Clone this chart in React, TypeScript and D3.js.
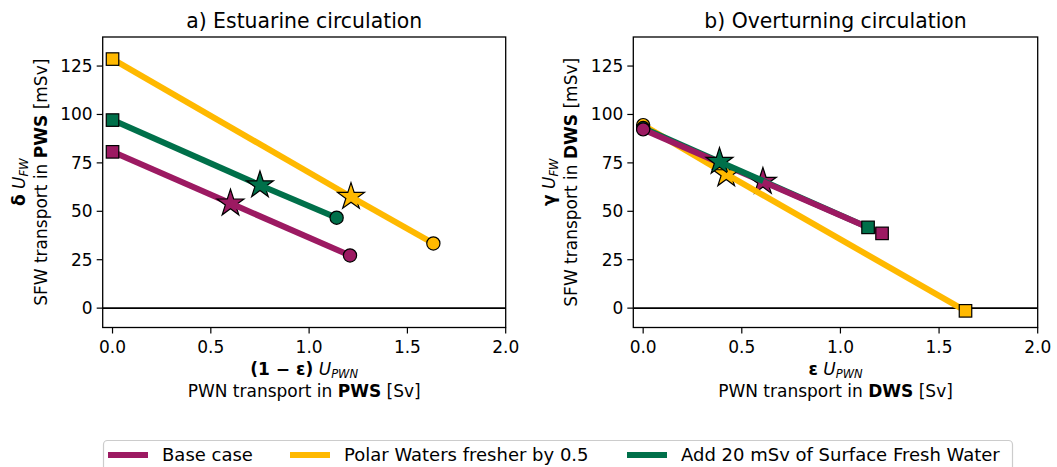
import React from "react";
import * as d3 from "d3";

const W = 1057;
const H = 467;

const caseNames = ["Polar Waters fresher by 0.5", "Add 20 mSv of Surface Fresh Water", "Base case"];
const caseColors = ["#ffb900", "#00704a", "#9c1a62"];
const legendOrder = [2, 0, 1];

// Panel a: points [square, star, circle]
const estX = [
  [0, 1.213, 1.632],
  [0, 0.75, 1.14],
  [0, 0.6, 1.208],
];
const estY = [
  [128.6, 57.5, 33.4],
  [97.1, 63.5, 46.7],
  [80.7, 54.1, 27.2],
];
const estMarkers = ["square", "star", "circle"];

// Panel b: points [circle, star, square]
const ovX = [
  [0, 0.421, 1.634],
  [0, 0.387, 1.14],
  [0, 0.607, 1.211],
];
const ovY = [
  [94.5, 69.2, -1.4],
  [93.0, 75.6, 41.7],
  [92.3, 65.3, 38.6],
];
const ovMarkers = ["circle", "star", "square"];

const xTicks = [0, 0.5, 1.0, 1.5, 2.0];
const yTicks = [0, 25, 50, 75, 100, 125];
const xDomain = [-0.05, 2.0];
const yDomain = [-10, 140];

const FONT = "DejaVu Sans, sans-serif";
const FS = 17;

function Marker({ type, x, y, color }: { type: string; x: number; y: number; color: string }) {
  if (type === "square") {
    const s = 12.5;
    return <rect x={x - s / 2} y={y - s / 2} width={s} height={s} fill={color} stroke="#000" strokeWidth={1.2} />;
  }
  if (type === "circle") {
    return <circle cx={x} cy={y} r={6.6} fill={color} stroke="#000" strokeWidth={1.2} />;
  }
  const p = d3.symbol().type(d3.symbolStar).size(225)();
  return <path d={p || ""} transform={`translate(${x},${y})`} fill={color} stroke="#000" strokeWidth={1.2} />;
}

function Panel({
  left, right, top, bottom, xs, ys, markers, title, yLab1, yLab2, xLab1, xLab2,
}: any) {
  const x = d3.scaleLinear().domain(xDomain).range([left, right]);
  const y = d3.scaleLinear().domain(yDomain).range([bottom, top]);
  const cx = (left + right) / 2;
  const cy = (top + bottom) / 2;
  const line = d3.line<[number, number]>().x((d) => x(d[0])).y((d) => y(d[1]));
  const order = [0, 1, 2];
  return (
    <g fontFamily={FONT}>
      <text x={cx} y={28} textAnchor="middle" fontSize={20.4}>{title}</text>
      <line x1={left} x2={right} y1={y(0)} y2={y(0)} stroke="#000" strokeWidth={1.6} />
      {order.map((i) => (
        <path key={"s1" + i} d={line([[xs[i][0], ys[i][0]], [xs[i][1], ys[i][1]]]) || ""} stroke={caseColors[i]} strokeWidth={6} fill="none" />
      ))}
      {order.map((i) => (
        <Marker key={"st" + i} type={markers[1]} x={x(xs[i][1])} y={y(ys[i][1])} color={caseColors[i]} />
      ))}
      {order.map((i) => (
        <path key={"s2" + i} d={line([[xs[i][1], ys[i][1]], [xs[i][2], ys[i][2]]]) || ""} stroke={caseColors[i]} strokeWidth={6} fill="none" />
      ))}
      {order.map((i) => (
        <g key={"e" + i}>
          <Marker type={markers[0]} x={x(xs[i][0])} y={y(ys[i][0])} color={caseColors[i]} />
          <Marker type={markers[2]} x={x(xs[i][2])} y={y(ys[i][2])} color={caseColors[i]} />
        </g>
      ))}
      <rect x={left} y={top} width={right - left} height={bottom - top} fill="none" stroke="#000" strokeWidth={1.3} />
      {xTicks.map((t) => (
        <g key={"xt" + t}>
          <line x1={x(t)} x2={x(t)} y1={bottom} y2={bottom + 6} stroke="#000" strokeWidth={1.2} />
          <text x={x(t)} y={bottom + 25.5} textAnchor="middle" fontSize={FS}>{t.toFixed(1)}</text>
        </g>
      ))}
      {yTicks.map((t) => (
        <g key={"yt" + t}>
          <line x1={left - 6} x2={left} y1={y(t)} y2={y(t)} stroke="#000" strokeWidth={1.2} />
          <text x={left - 10} y={y(t) + 6} textAnchor="end" fontSize={FS}>{t}</text>
        </g>
      ))}
      <text x={cx} y={375} textAnchor="middle" fontSize={FS}>{xLab1}</text>
      <text x={cx} y={397} textAnchor="middle" fontSize={FS}>{xLab2}</text>
      <g transform={`translate(${left - 78},${cy}) rotate(-90)`}>
        <text x={0} y={0} textAnchor="middle" fontSize={FS}>{yLab1}</text>
      </g>
      <g transform={`translate(${left - 56},${cy}) rotate(-90)`}>
        <text x={0} y={0} textAnchor="middle" fontSize={FS}>{yLab2}</text>
      </g>
    </g>
  );
}

const sub = (s: string) => (
  <tspan fontStyle="italic" fontSize={11.5} dy={3}>{s}</tspan>
);

export default function App() {
  const top = 37;
  const bottom = 327.5;
  return (
    <svg width={W} height={H} style={{ position: "absolute", left: 0, top: 0, background: "#fff" }}>
      <rect x={0} y={0} width={W} height={H} fill="#fff" />
      <Panel
        left={102.7} right={505.7} top={top} bottom={bottom}
        xs={estX} ys={estY} markers={estMarkers}
        title="a) Estuarine circulation"
        yLab1={<><tspan fontWeight="bold">δ</tspan><tspan> </tspan><tspan fontStyle="italic">U</tspan>{sub("FW")}</>}
        yLab2={<><tspan>SFW transport in </tspan><tspan fontWeight="bold">PWS</tspan><tspan> [mSv]</tspan></>}
        xLab1={<><tspan fontWeight="bold">(1 − ε)</tspan><tspan> </tspan><tspan fontStyle="italic">U</tspan>{sub("PWN")}</>}
        xLab2={<><tspan>PWN transport in </tspan><tspan fontWeight="bold">PWS</tspan><tspan> [Sv]</tspan></>}
      />
      <Panel
        left={633.3} right={1037.7} top={top} bottom={bottom}
        xs={ovX} ys={ovY} markers={ovMarkers}
        title="b) Overturning circulation"
        yLab1={<><tspan fontWeight="bold">γ</tspan><tspan> </tspan><tspan fontStyle="italic">U</tspan>{sub("FW")}</>}
        yLab2={<><tspan>SFW transport in </tspan><tspan fontWeight="bold">DWS</tspan><tspan> [mSv]</tspan></>}
        xLab1={<><tspan fontWeight="bold">ε</tspan><tspan> </tspan><tspan fontStyle="italic">U</tspan>{sub("PWN")}</>}
        xLab2={<><tspan>PWN transport in </tspan><tspan fontWeight="bold">DWS</tspan><tspan> [Sv]</tspan></>}
      />
      <g fontFamily={FONT}>
        <rect x={103.5} y={440.5} width={909} height={40} rx={4} fill="#fff" stroke="#cccccc" strokeWidth={1.2} />
        {legendOrder.map((ci, k) => {
          const hx = [108, 290, 627][k];
          return (
            <g key={"lg" + ci}>
              <line x1={hx} x2={hx + 40} y1={455} y2={455} stroke={caseColors[ci]} strokeWidth={6} />
              <text x={hx + 54} y={461} fontSize={18} fill="#000">{caseNames[ci]}</text>
            </g>
          );
        })}
      </g>
    </svg>
  );
}
